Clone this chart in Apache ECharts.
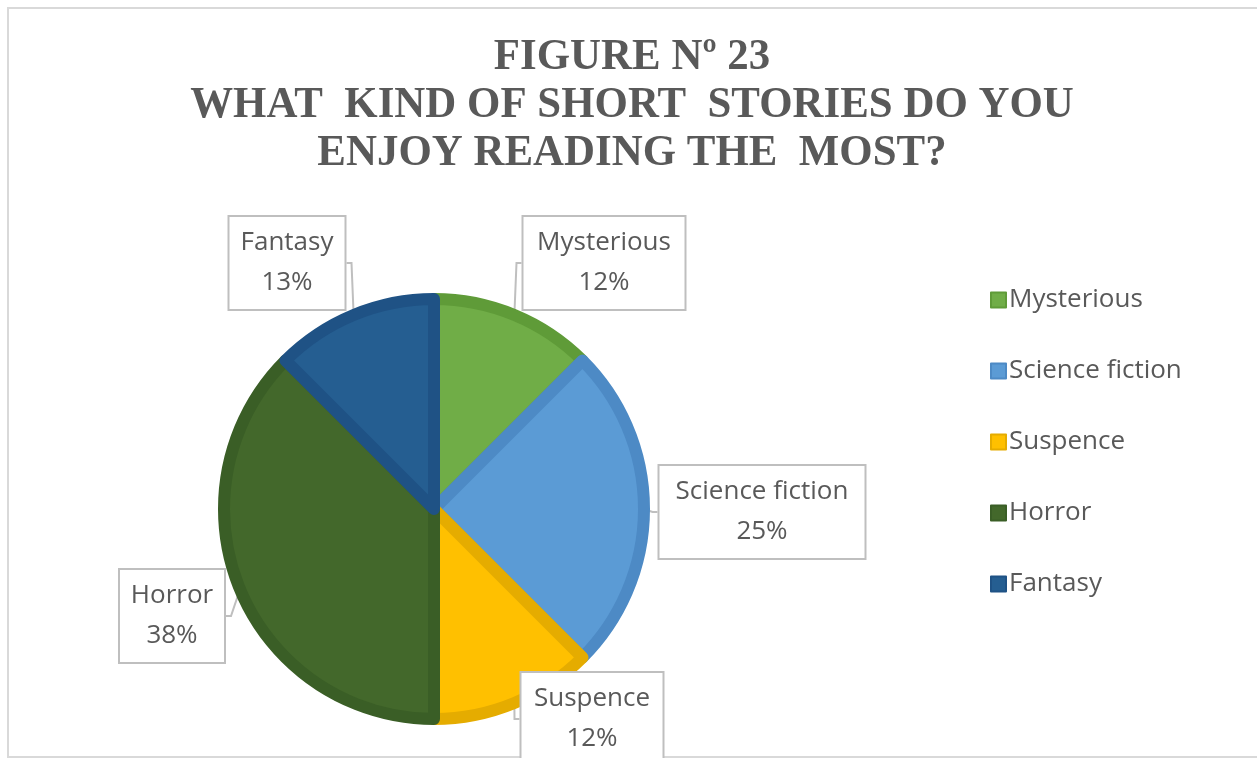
<!DOCTYPE html>
<html>
<head>
<meta charset="utf-8">
<script src="https://cdn.jsdelivr.net/npm/echarts@6/dist/echarts.min.js"></script>
<style>
html,body{margin:0;padding:0;background:#fff;}
#chart{width:1257px;height:758px;}
</style>
</head>
<body>
<div id="chart"></div>
<script>
var titleLines = ['FIGURE Nº 23', 'WHAT  KIND OF SHORT  STORIES DO YOU', 'ENJOY READING THE  MOST?'];
var categories = ['Mysterious', 'Science fiction', 'Suspence', 'Horror', 'Fantasy'];
var values = [12.5, 25, 12.5, 37.5, 12.5];
var percentLabels = ['12%', '25%', '12%', '38%', '13%'];
var fillColors = ['#70AD47', '#5B9BD5', '#FFC000', '#43682B', '#255E91'];
var borderColors = ['#5F9B38', '#4D8AC5', '#E5AC00', '#3A5E26', '#1F5285'];

// label box layout (centers and widths)
var labelBoxes = [
  {x: 604, y: 263, w: 165},
  {x: 762, y: 512, w: 209},
  {x: 592, y: 719, w: 145},
  {x: 172, y: 616, w: 108},
  {x: 287, y: 263, w: 119}
];

var chart = echarts.init(document.getElementById('chart'));
var textColor = '#595959';
var sansFont = '"Open Sans", sans-serif';

var graphics = [{
  type: 'rect',
  shape: {x: 8, y: 8, width: 1300, height: 749},
  style: {fill: 'none', stroke: '#D9D9D9', lineWidth: 2},
  silent: true
}];
titleLines.forEach(function (t, i) {
  graphics.push({
    type: 'text',
    x: 632, y: 58 + i * 48,
    scaleX: 0.975,
    style: {
      text: t,
      fill: textColor,
      font: 'bold 44px "Liberation Serif", "Times New Roman", serif',
      textAlign: 'center',
      textVerticalAlign: 'middle'
    },
    silent: true
  });
});

var data = categories.map(function (c, i) {
  return {
    name: c,
    value: values[i],
    itemStyle: {color: fillColors[i], borderColor: borderColors[i]},
    label: {width: labelBoxes[i].w - 24}
  };
});

chart.setOption({
  animation: false,
  graphic: graphics,
  legend: {
    orient: 'vertical',
    left: 985,
    top: 282,
    itemWidth: 15,
    itemHeight: 15,
    itemGap: 45,
    icon: 'rect',
    data: categories,
    textStyle: {color: textColor, fontSize: 26, fontFamily: sansFont, padding: [0, 0, 0, -2]}
  },
  series: [{
    type: 'pie',
    center: [434, 509],
    radius: [0, 210],
    startAngle: 90,
    clockwise: true,
    data: data,
    itemStyle: {borderWidth: 12},
    emphasis: {disabled: true},
    label: {
      show: true,
      position: 'outside',
      formatter: function (p) { return p.name + '\n' + percentLabels[p.dataIndex]; },
      color: textColor,
      fontSize: 26,
      fontFamily: sansFont,
      lineHeight: 40,
      align: 'center',
      backgroundColor: '#fff',
      borderColor: '#BFBFBF',
      borderWidth: 2,
      padding: [12, 10, 0, 10]
    },
    labelLine: {show: true, length: 10, length2: 5, lineStyle: {color: '#BFBFBF', width: 2}},
    labelLayout: function (p) {
      var b = labelBoxes[p.dataIndex];
      return {x: b.x, y: b.y, align: 'center', verticalAlign: 'middle'};
    }
  }]
});
</script>
</body>
</html>
